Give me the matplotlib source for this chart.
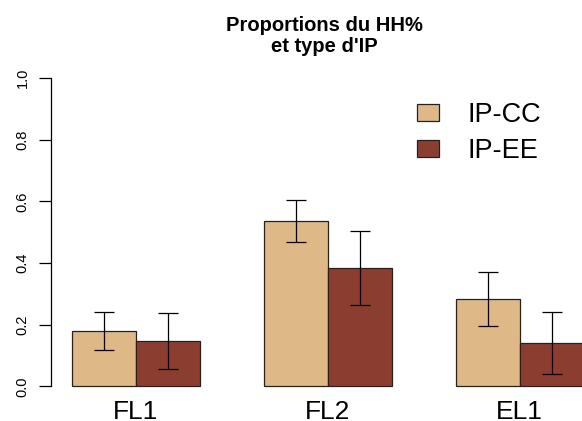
import matplotlib.pyplot as plt
import numpy as np

plt.rcParams['font.family'] = ['Liberation Sans', 'DejaVu Sans']

# proportions
groups = ["FL1", "FL2", "EL1"]
series = ["IP-CC", "IP-EE"]
ip_cc = [0.181, 0.538, 0.283]
ip_cc_err = [0.062, 0.068, 0.087]
ip_ee = [0.147, 0.384, 0.141]
ip_ee_err = [0.090, 0.119, 0.099]
yticks = [0.0, 0.2, 0.4, 0.6, 0.8, 1.0]

col_cc = "#DEB887"   # burlywood
col_ee = "#8B3E2F"   # coral4

fig = plt.figure(figsize=(5.82, 4.21), dpi=100)
ax = fig.add_axes([0.088, 0.0527, 0.950, 0.791])

# R barplot layout: bar width 1, one empty unit between groups
left = 1 + 3 * np.arange(len(groups))
errkw = dict(ecolor="black", elinewidth=0.9, capsize=7.5, capthick=0.9)
ax.bar(left, ip_cc, width=1, align="edge", color=col_cc, edgecolor="#222222",
       linewidth=0.9, label=series[0])
ax.bar(left + 1, ip_ee, width=1, align="edge", color=col_ee, edgecolor="#222222",
       linewidth=0.9, label=series[1])
ax.errorbar(left + 0.5, ip_cc, yerr=ip_cc_err, fmt="none", **errkw)
ax.errorbar(left + 1.5, ip_ee, yerr=ip_ee_err, fmt="none", **errkw)

ax.set_xlim(0.68, 9.32)
ax.set_ylim(-0.04, 1.04)

for s in ["top", "right", "bottom"]:
    ax.spines[s].set_visible(False)
ax.spines["left"].set_bounds(0, 1)
ax.spines["left"].set_linewidth(0.9)

ax.set_yticks(yticks, [f"{v:.1f}" for v in yticks])
ax.tick_params(axis="y", length=8.4, width=0.9, pad=7, labelsize=10.5,
               labelrotation=90)
for t in ax.get_yticklabels():
    t.set_verticalalignment("center")

ax.set_xticks(left + 1, groups)
ax.tick_params(axis="x", length=0, pad=1, labelsize=19)

fig.text(0.557, 0.962, "Proportions du HH%\net type d'IP", ha="center", va="top",
         fontsize=14.5, fontweight="bold", linespacing=1.12)

fig.legend(loc="upper left", bbox_to_anchor=(0.717, 0.758), frameon=False,
           fontsize=19.5, handlelength=0.81, handleheight=0.62,
           handletextpad=1.05, labelspacing=0.38, borderpad=0, borderaxespad=0)

fig.savefig("out.png", dpi=100)
